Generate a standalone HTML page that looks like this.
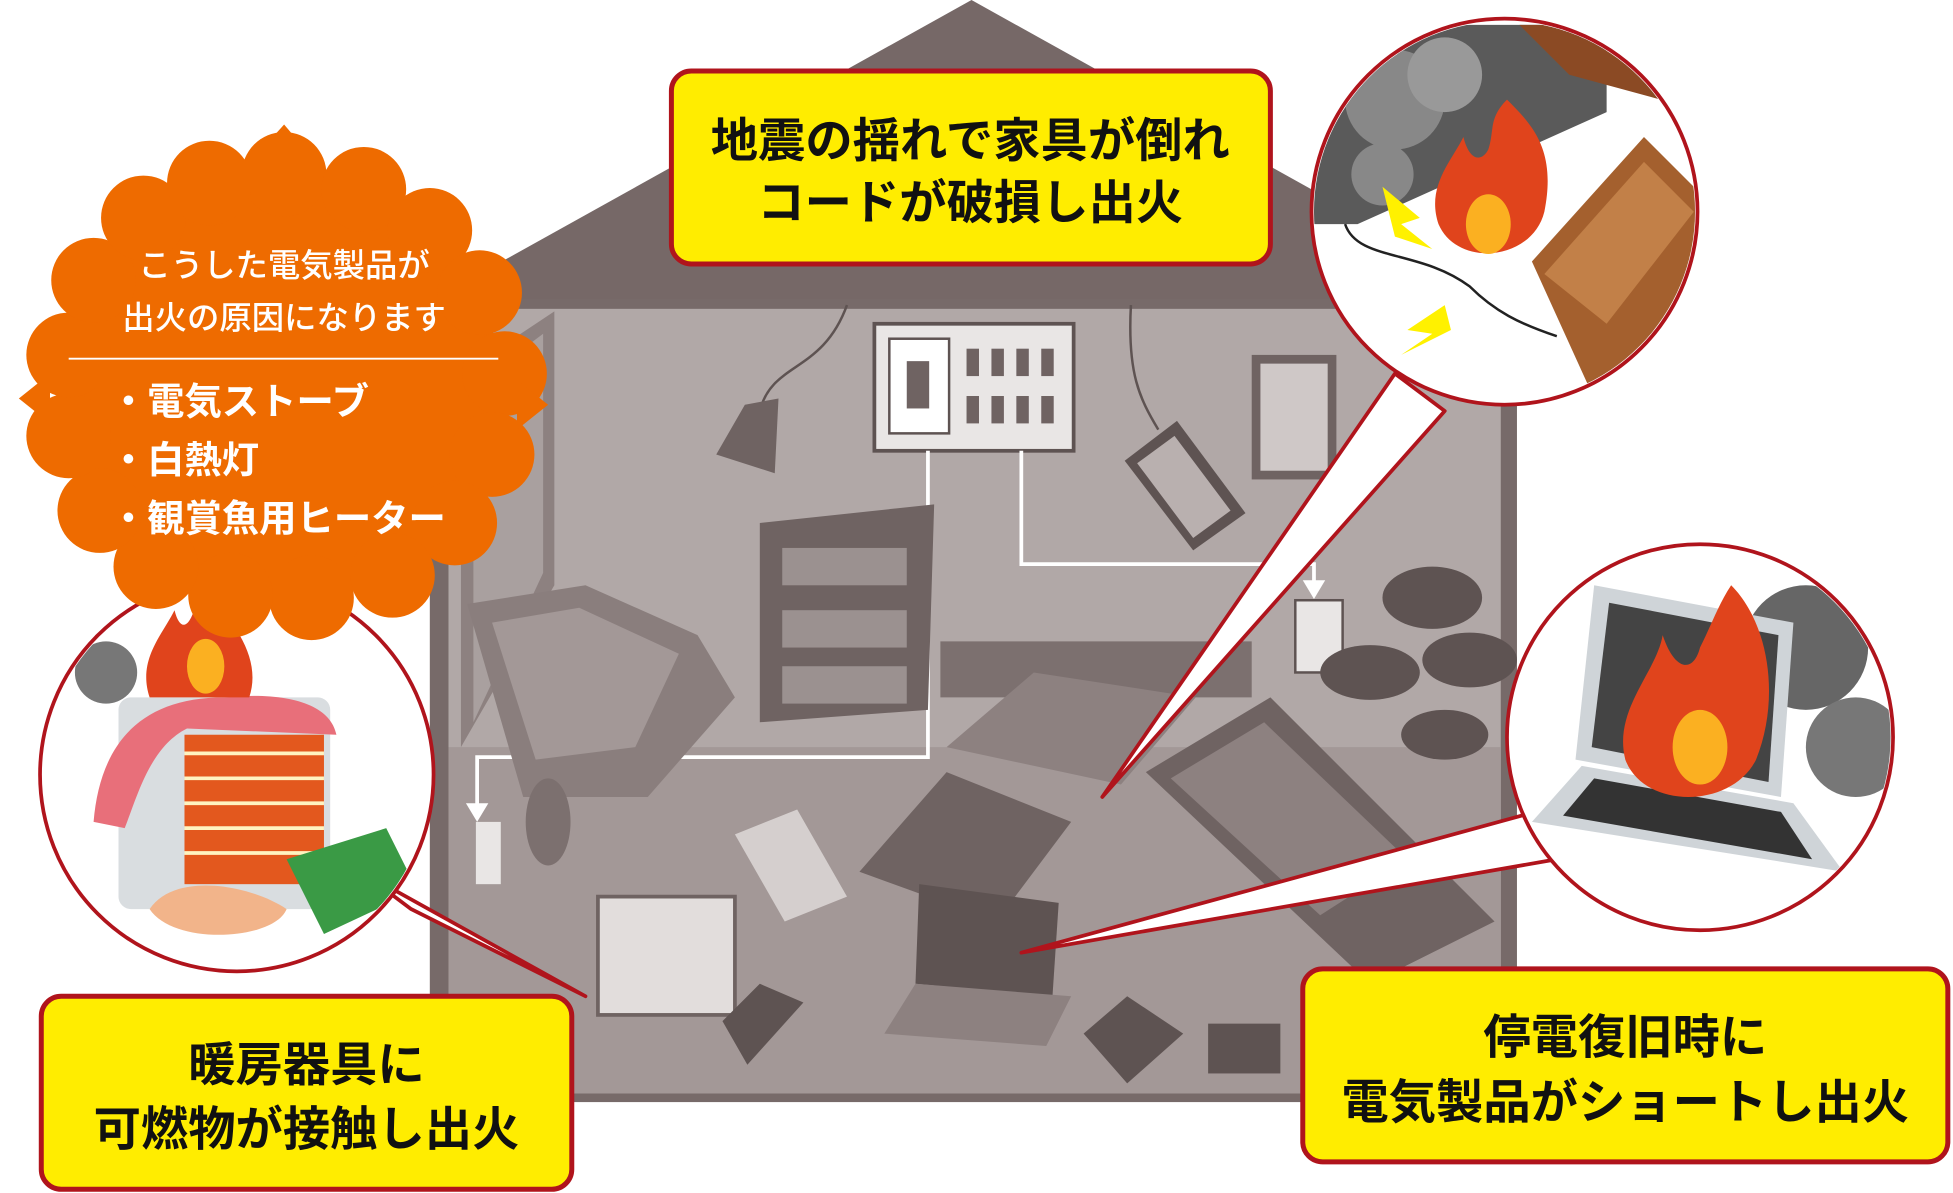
<!DOCTYPE html>
<html><head><meta charset="utf-8"><style>
html,body{margin:0;padding:0;background:#fff;}
svg{display:block}
text{font-family:"Liberation Sans","Noto Sans CJK JP",sans-serif;font-weight:bold;}
</style></head><body>
<svg width="1953" height="1193" viewBox="0 0 1568 958" xmlns="http://www.w3.org/2000/svg">
<polygon points="780,0 340,245 1220,245" fill="#766867"/>
<rect x="345" y="240" width="873" height="645" fill="#776a69"/>
<rect x="360" y="248" width="845" height="630" fill="#b1a8a7"/>
<polygon points="360,600 1205,600 1205,878 360,878" fill="#a39897"/>
<polygon points="370,300 445,250 445,470 370,600" fill="#8d8180"/>
<polygon points="380,310 436,268 436,460 380,580" fill="#a9a09f"/>
<rect x="1005" y="285" width="68" height="100" fill="#6f6362"/>
<rect x="1012" y="292" width="54" height="86" fill="#cfc8c7"/>
<rect x="702" y="260" width="160" height="102" fill="#e9e6e5" stroke="#5e5352" stroke-width="3"/>
<rect x="714" y="272" width="48" height="76" fill="#fff" stroke="#5e5352" stroke-width="2"/>
<rect x="728" y="290" width="18" height="38" fill="#6f6362"/>
<g fill="#6f6362">
<rect x="776" y="280" width="10" height="22"/><rect x="796" y="280" width="10" height="22"/><rect x="816" y="280" width="10" height="22"/><rect x="836" y="280" width="10" height="22"/>
<rect x="776" y="318" width="10" height="22"/><rect x="796" y="318" width="10" height="22"/><rect x="816" y="318" width="10" height="22"/><rect x="836" y="318" width="10" height="22"/>
</g>
<polyline points="745,362 745,608 383,608 383,650" fill="none" stroke="#fff" stroke-width="3"/>
<polygon points="374,645 392,645 383,660" fill="#fff"/>
<polyline points="820,362 820,453 1055,453 1055,470" fill="none" stroke="#fff" stroke-width="3"/>
<polygon points="1046,466 1064,466 1055,481" fill="#fff"/>
<rect x="1040" y="482" width="38" height="58" fill="#e9e6e5" stroke="#5e5352" stroke-width="2"/>
<rect x="382" y="660" width="20" height="50" fill="#e9e6e5"/>
<path d="M680,245 C660,300 620,290 610,330" stroke="#5e5352" stroke-width="2" fill="none"/>
<polygon points="598,325 625,320 622,380 575,365" fill="#6f6362"/>
<path d="M908,245 C905,300 915,320 930,345" stroke="#5e5352" stroke-width="2" fill="none"/>
<polygon points="903,370 945,338 1000,412 958,442" fill="#5e5352"/>
<polygon points="913,372 943,350 988,410 958,432" fill="#b9b0af"/>
<polygon points="610,420 750,405 745,570 610,580" fill="#6f6362"/>
<rect x="628" y="440" width="100" height="30" fill="#9b9190"/>
<rect x="628" y="490" width="100" height="30" fill="#9b9190"/>
<rect x="628" y="535" width="100" height="30" fill="#9b9190"/>
<polygon points="375,485 470,470 560,510 590,560 520,640 420,640" fill="#8a7e7d"/>
<polygon points="395,500 465,488 545,525 510,600 430,610" fill="#a39897"/>
<polygon points="755,515 1005,515 1005,560 755,560" fill="#7c706f"/>
<polygon points="760,600 830,540 960,560 900,630" fill="#8d8180"/>
<polygon points="920,620 1020,560 1200,740 1100,790" fill="#6f6362"/>
<polygon points="940,625 1015,580 1130,690 1060,735" fill="#8d8180"/>
<g fill="#5e5352">
<ellipse cx="1150" cy="480" rx="40" ry="25"/><ellipse cx="1180" cy="530" rx="38" ry="22"/><ellipse cx="1100" cy="540" rx="40" ry="22"/><ellipse cx="1160" cy="590" rx="35" ry="20"/>
</g>
<polygon points="690,700 760,620 860,660 800,740" fill="#6f6362"/>
<ellipse cx="440" cy="660" rx="18" ry="35" fill="#7c706f"/>
<polygon points="590,670 640,650 680,720 630,740" fill="#d5cfce"/>
<rect x="480" y="720" width="110" height="95" fill="#e2dddc" stroke="#6f6362" stroke-width="3"/>
<polygon points="738,710 850,725 845,800 735,790" fill="#5e5352"/>
<polygon points="710,830 840,840 860,800 735,790" fill="#8d8180"/>
<polygon points="870,830 905,800 950,830 905,870" fill="#5e5352"/>
<rect x="970" y="822" width="58" height="40" fill="#5e5352"/>
<polygon points="580,820 610,790 645,805 600,855" fill="#5e5352"/>

<polygon points="1120,300 1160,330 885,640" fill="#fff" stroke="#b0141c" stroke-width="3" stroke-linejoin="round"/>
<polygon points="1240,650 1250,690 820,765" fill="#fff" stroke="#b0141c" stroke-width="3" stroke-linejoin="round"/>
<polygon points="290,700 330,730 470,800" fill="#fff" stroke="#b0141c" stroke-width="3" stroke-linejoin="round"/>

<circle cx="1208" cy="170" r="155" fill="#fff" stroke="#b0141c" stroke-width="3"/>
<clipPath id="c1"><circle cx="1208" cy="170" r="153"/></clipPath>
<g clip-path="url(#c1)">
<polygon points="1050,20 1290,20 1290,90 1090,180 1050,180" fill="#5a5a5a"/>
<circle cx="1120" cy="80" r="40" fill="#888"/><circle cx="1160" cy="60" r="30" fill="#999"/><circle cx="1110" cy="140" r="25" fill="#888"/>
<polygon points="1220,20 1370,20 1370,90 1260,60" fill="#8b4a24"/>
<polygon points="1230,210 1320,110 1370,160 1370,330 1280,320" fill="#a4602e"/>
<polygon points="1240,220 1320,130 1360,170 1290,260" fill="#c28048"/>
<path d="M1210,80 C1230,100 1250,120 1240,170 C1230,210 1170,215 1155,180 C1145,150 1165,130 1175,110 C1180,130 1190,130 1195,120 C1200,105 1195,95 1210,80Z" fill="#e0441c"/>
<ellipse cx="1195" cy="180" rx="18" ry="24" fill="#fbb021"/>
<polygon points="1110,150 1140,175 1125,180 1150,200 1120,190" fill="#fff100"/>
<polygon points="1160,245 1130,265 1150,268 1125,285 1165,265" fill="#fff100"/>
<path d="M1080,180 C1090,210 1140,200 1180,230 C1200,250 1220,260 1250,270" stroke="#222" stroke-width="2" fill="none"/>
</g>

<circle cx="1365" cy="592" r="155" fill="#fff" stroke="#b0141c" stroke-width="3"/>
<clipPath id="c2"><circle cx="1365" cy="592" r="153"/></clipPath>
<g clip-path="url(#c2)">
<circle cx="1450" cy="520" r="50" fill="#666"/><circle cx="1490" cy="600" r="40" fill="#777"/>
<polygon points="1280,470 1440,500 1430,640 1265,610" fill="#cfd4d8"/>
<polygon points="1292,484 1428,510 1420,628 1278,600" fill="#444"/>
<polygon points="1230,660 1270,615 1440,645 1480,700" fill="#cfd4d8"/>
<polygon points="1255,655 1280,625 1430,652 1455,690" fill="#333"/>
<path d="M1390,470 C1420,500 1430,560 1410,610 C1390,650 1320,650 1305,610 C1295,570 1330,540 1335,510 C1345,540 1360,540 1365,520 C1375,500 1380,485 1390,470Z" fill="#e0441c"/>
<ellipse cx="1365" cy="600" rx="22" ry="30" fill="#fbb021"/>
</g>

<circle cx="190" cy="622" r="158" fill="#fff" stroke="#b0141c" stroke-width="3"/>
<clipPath id="c3"><circle cx="190" cy="622" r="156"/></clipPath>
<g clip-path="url(#c3)">
<circle cx="85" cy="540" r="25" fill="#777"/>
<rect x="95" y="560" width="170" height="170" rx="10" fill="#d9dde0"/>
<rect x="148" y="590" width="112" height="120" fill="#e3581e"/>
<g stroke="#fff3c0" stroke-width="3">
<line x1="148" y1="605" x2="260" y2="605"/><line x1="148" y1="625" x2="260" y2="625"/><line x1="148" y1="645" x2="260" y2="645"/><line x1="148" y1="665" x2="260" y2="665"/><line x1="148" y1="685" x2="260" y2="685"/>
</g>
<path d="M75,660 C80,600 110,560 180,560 C230,555 265,565 270,590 L150,585 C120,600 110,640 100,665Z" fill="#e86f7a"/>
<path d="M160,470 C190,500 210,530 200,560 L120,560 C110,530 130,510 140,490 C145,510 155,505 160,470Z" fill="#e0441c"/>
<ellipse cx="165" cy="535" rx="15" ry="22" fill="#fbb021"/>
<polygon points="230,690 310,665 335,715 260,750" fill="#3a9a45"/>
<path d="M120,730 C140,700 200,710 230,730 C220,755 140,760 120,730Z" fill="#f2b48a"/>
</g>

<!-- orange burst: softened scallops -->
<g fill="#ee6b00">
<circle cx="228" cy="305" r="172"/>
<circle cx="228" cy="140" r="34"/><circle cx="292" cy="152" r="34"/><circle cx="345" cy="185" r="34"/><circle cx="385" cy="235" r="34"/>
<circle cx="405" cy="300" r="34"/><circle cx="395" cy="365" r="34"/><circle cx="365" cy="420" r="34"/><circle cx="315" cy="462" r="34"/>
<circle cx="250" cy="480" r="34"/><circle cx="185" cy="478" r="34"/><circle cx="125" cy="455" r="34"/><circle cx="80" cy="410" r="34"/>
<circle cx="55" cy="350" r="34"/><circle cx="55" cy="285" r="34"/><circle cx="75" cy="225" r="34"/><circle cx="115" cy="175" r="34"/><circle cx="168" cy="147" r="34"/>
<polygon points="228,100 245,120 210,120"/>
<polygon points="15,320 40,300 40,340"/><polygon points="440,325 415,305 415,345"/>
</g>
<line x1="55" y1="288" x2="400" y2="288" stroke="#fff" stroke-width="1.5"/>
<text x="228" y="222" fill="#fff" font-size="26" text-anchor="middle" style="font-weight:500">こうした電気製品が</text>
<text x="228" y="264" fill="#fff" font-size="26" text-anchor="middle" style="font-weight:500">出火の原因になります</text>
<text x="88" y="333" fill="#fff" font-size="30">・電気ストーブ</text>
<text x="88" y="380" fill="#fff" font-size="30">・白熱灯</text>
<text x="88" y="427" fill="#fff" font-size="30">・観賞魚用ヒーター</text>

<rect x="539" y="57" width="481" height="155" rx="16" fill="#ffed00" stroke="#b0141c" stroke-width="4"/>
<text x="779" y="126" font-size="38" text-anchor="middle" fill="#111">地震の揺れで家具が倒れ</text>
<text x="779" y="176" font-size="38" text-anchor="middle" fill="#111">コードが破損し出火</text>

<rect x="33" y="800" width="426" height="155" rx="16" fill="#ffed00" stroke="#b0141c" stroke-width="4"/>
<text x="246" y="868" font-size="38" text-anchor="middle" fill="#111">暖房器具に</text>
<text x="246" y="920" font-size="38" text-anchor="middle" fill="#111">可燃物が接触し出火</text>

<rect x="1046" y="778" width="518" height="155" rx="16" fill="#ffed00" stroke="#b0141c" stroke-width="4"/>
<text x="1305" y="846" font-size="38" text-anchor="middle" fill="#111">停電復旧時に</text>
<text x="1305" y="898" font-size="38" text-anchor="middle" fill="#111">電気製品がショートし出火</text>
</svg>
</body></html>
